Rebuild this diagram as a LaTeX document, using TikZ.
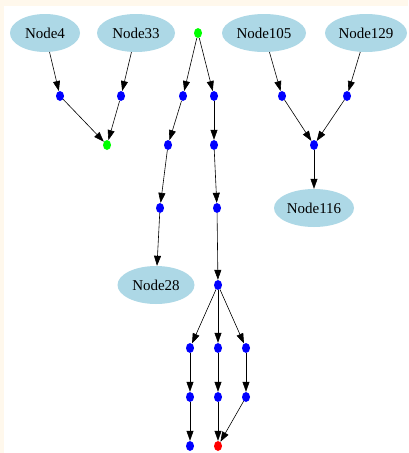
\documentclass[tikz,border=0pt]{standalone}
\usepackage{fontspec}
\setmainfont{Liberation Serif}
\usetikzlibrary{shapes.geometric,arrows.meta}
\definecolor{lblue}{HTML}{ADD8E6}
\definecolor{cream}{HTML}{FFF8EC}
\tikzset{
  big/.style={ellipse, fill=lblue, inner sep=0pt, minimum height=38pt, font=\fontsize{15}{17}\selectfont},
  dot/.style={ellipse, inner sep=0pt, minimum width=8pt, minimum height=10pt, fill=blue},
  gdot/.style={dot, fill=green},
  rdot/.style={dot, fill=red},
  edge/.style={draw=black, line width=0.6pt, -{Triangle[length=10pt,width=7pt]}}
}
\begin{document}
\begin{tikzpicture}[x=1pt,y=-1pt]
\useasboundingbox (0,0) rectangle (408,453);
\fill[cream] (0,0) rectangle (408,453);
\fill[white] (4,6) rectangle (408,453);
% big nodes
\node[big, minimum width=70pt] (n4) at (45,33) {Node4};
\node[big, minimum width=78pt] (n33) at (136,33) {Node33};
\node[big, minimum width=84pt] (n105) at (264,33) {Node105};
\node[big, minimum width=82pt] (n129) at (366,33) {Node129};
\node[big, minimum width=80pt] (n116) at (314,208) {Node116};
\node[big, minimum width=77pt] (n28) at (156,285) {Node28};
% left group
\node[dot] (a1) at (60,96) {};
\node[dot] (a2) at (121,96) {};
\node[gdot] (ag) at (107,145) {};
% middle
\node[gdot] (top) at (198,33) {};
\node[dot] (b1) at (183,96) {};
\node[dot] (b2) at (168,145) {};
\node[dot] (b3) at (160,208) {};
\node[dot] (c1) at (214,96) {};
\node[dot] (c2) at (214,145) {};
\node[dot] (c3) at (217,208) {};
\node[dot] (c4) at (218,285) {};
\node[dot] (d1) at (190,348) {};
\node[dot] (d2) at (190,397) {};
\node[dot] (d3) at (190,446) {};
\node[dot] (e1) at (218,348) {};
\node[dot] (e2) at (218,397) {};
\node[rdot] (e3) at (218,446) {};
\node[dot] (f1) at (246,348) {};
\node[dot] (f2) at (246,397) {};
% right group
\node[dot] (r1) at (282,96) {};
\node[dot] (r2) at (347,96) {};
\node[dot] (r3) at (314,145) {};
% edges
\path[edge] (n4) -- (a1);
\path[edge] (a1) -- (ag);
\path[edge] (n33) -- (a2);
\path[edge] (a2) -- (ag);
\path[edge] (top) -- (b1);
\path[edge] (b1) -- (b2);
\path[edge] (b2) -- (b3);
\path[edge] (b3) -- (n28);
\path[edge] (top) -- (c1);
\path[edge] (c1) -- (c2);
\path[edge] (c2) -- (c3);
\path[edge] (c3) -- (c4);
\path[edge] (c4) -- (d1);
\path[edge] (d1) -- (d2);
\path[edge] (d2) -- (d3);
\path[edge] (c4) -- (e1);
\path[edge] (e1) -- (e2);
\path[edge] (e2) -- (e3);
\path[edge] (c4) -- (f1);
\path[edge] (f1) -- (f2);
\path[edge] (f2) -- (e3);
\path[edge] (n105) -- (r1);
\path[edge] (r1) -- (r3);
\path[edge] (n129) -- (r2);
\path[edge] (r2) -- (r3);
\path[edge] (r3) -- (n116);
\end{tikzpicture}
\end{document}
